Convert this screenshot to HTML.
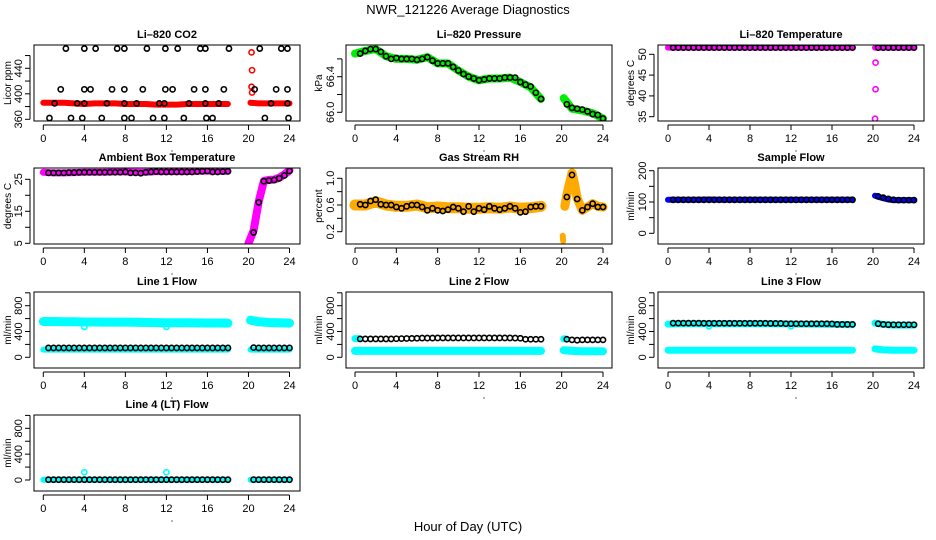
<!DOCTYPE html>
<html><head><meta charset="utf-8"><style>
html,body{margin:0;padding:0;background:#fff;}
svg{display:block;font-family:"Liberation Sans",Arial,sans-serif;}
</style></head><body>
<svg id="chart" width="936" height="540" viewBox="0 0 936 540">
<rect x="0" y="0" width="936" height="540" fill="#fff"/>
<text x="468" y="14" font-size="13" text-anchor="middle">NWR_121226  Average Diagnostics</text>
<text x="468" y="531" font-size="13" text-anchor="middle">Hour of Day (UTC)</text>
</svg>
<script>
// shared hour arrays
const BX = [0,1,2,3,4,5,6,7,8,9,10,11,12,13,14,15,16,17,18];
const BX2 = [20.2,21,22,23,24];
const CX = [0.5,1,1.5,2,2.5,3,3.5,4,4.5,5,5.5,6,6.5,7,7.5,8,8.5,9,9.5,10,10.5,11,11.5,12,12.5,13,13.5,14,14.5,15,15.5,16,16.5,17,17.5,18];
const CX2 = [20.5,21,21.5,22,22.5,23,23.5,24];
const xTicks = [0,4,8,12,16,20,24];

// CO2
const co2Band = [386,386,386,385,384,385,385,385,384,384,384,383,383,383,384,384,384,384,384];
const co2Band2 = [386,385,385,385,385];
const co2OutX = [20.3,20.35,20.3,20.35];
const co2OutY = [465,437,411,402];
const co2TopX = [2.2,4.0,5.1,7.2,7.9,10.1,11.9,13.1,15.3,15.8,18.1,21.1,23.2,23.8];
const co2TopY = [471,471,471,471,471,471,471,471,471,471,471,471,471,471];
const co2MidX = [1.7,4.0,4.6,6.7,7.9,9.7,11.9,12.6,14.7,15.8,17.6,20.6,22.7,23.8];
const co2MidY = [407,407,407,407,407,407,407,407,407,407,407,407,407,407];
const co2LowX = [1.1,3.3,4.0,6.2,7.9,9.1,11.3,11.8,14.2,15.8,17.1,22.2,23.8];
const co2LowY = [385,385,385,385,385,385,385,385,385,385,385,385,385];
const co2BotX = [0.6,2.7,3.8,5.7,7.9,8.6,10.7,11.8,13.7,15.9,16.5,21.6,23.9];
const co2BotY = [362,362,362,362,362,362,362,362,362,362,362,362,362];
// Pressure
const presBand = [66.66,66.69,66.71,66.63,66.60,66.60,66.59,66.62,66.55,66.55,66.47,66.40,66.36,66.38,66.38,66.39,66.34,66.28,66.15];
const presBand2 = [66.16,66.04,66.02,65.99,65.93];
const presAvg = [66.66,66.69,66.71,66.71,66.68,66.63,66.60,66.61,66.60,66.60,66.60,66.59,66.60,66.62,66.58,66.55,66.55,66.55,66.51,66.47,66.43,66.40,66.38,66.36,66.37,66.38,66.38,66.38,66.39,66.39,66.39,66.34,66.31,66.29,66.22,66.15];
const presAvg2 = [66.09,66.05,66.04,66.03,66.01,65.98,65.97,65.93];
// Li-820 temperature
const ltBand = [51.6,51.6,51.6,51.6,51.6,51.6,51.6,51.6,51.6,51.6,51.6,51.6,51.6,51.6,51.6,51.6,51.6,51.6,51.6];
const ltBand2 = [51.6,51.6,51.6,51.6,51.6];
const ltAvg = [51.6,51.6,51.6,51.6,51.6,51.6,51.6,51.6,51.6,51.6,51.6,51.6,51.6,51.6,51.6,51.6,51.6,51.6,51.6,51.6,51.6,51.6,51.6,51.6,51.6,51.6,51.6,51.6,51.6,51.6,51.6,51.6,51.6,51.6,51.6,51.6];
const ltAvg2 = [51.6,51.6,51.6,51.6,51.6,51.6,51.6,51.6];
const ltOutX = [20.25,20.25,20.2];
const ltOutY = [48,41.6,34.5];
// Ambient
const ambBand = [27.2,27.0,27.0,27.1,27.2,27.2,27.2,27.3,27.3,27.2,27.2,27.4,27.4,27.4,27.4,27.5,27.6,27.5,27.5];
const ambRiseX = [20,20.5,21,21.5,22,22.5,23,23.5,24];
const ambRiseY = [5,9,18,24.5,24.8,24.9,25.5,26.5,27.8];
const ambAvg = [27.0,27.0,27.0,27.0,27.1,27.1,27.2,27.2,27.2,27.2,27.2,27.2,27.2,27.2,27.2,27.3,27.0,27.0,26.9,27.2,27.3,27.4,27.3,27.3,27.3,27.3,27.3,27.3,27.3,27.4,27.5,27.6,27.3,27.3,27.4,27.5];
const ambAvg2 = [8.4,17.8,24.4,24.6,24.8,25.3,26.2,27.6];
// RH
const rhBand = [0.6,0.6,0.65,0.6,0.58,0.58,0.6,0.56,0.57,0.56,0.56,0.55,0.55,0.56,0.55,0.57,0.55,0.56,0.58];
const rhBandX2 = [20.3,20.5,20.8,21,21.2,21.5,22,22.5,23,23.5,24];
const rhBand2 = [0.58,0.75,0.95,1.08,0.95,0.7,0.52,0.57,0.62,0.58,0.57];
const rhOutX = [20.1,20.15];
const rhOutY = [0.14,0.06];
const rhAvg = [0.61,0.6,0.66,0.68,0.61,0.6,0.6,0.57,0.55,0.58,0.6,0.6,0.57,0.52,0.55,0.52,0.51,0.53,0.57,0.55,0.5,0.58,0.5,0.55,0.53,0.58,0.55,0.53,0.55,0.58,0.55,0.49,0.5,0.57,0.58,0.58];
const rhAvg2 = [0.72,1.05,0.69,0.52,0.57,0.62,0.57,0.57];
// Sample flow
const sfBand = [107,107,107,107,108,107,107,107,107,107,107,107,107,107,107,107,107,107,107];
const sfBandX2 = [20.2,20.5,21,21.5,22,23,24];
const sfBand2 = [120,117,112,108,106,106,106];
const sfAvg = [107,107,107,107,107,107,107,107,107,107,107,107,107,107,107,107,107,107,107,107,107,107,107,107,107,107,107,107,107,107,107,107,107,107,107,107];
const sfAvg2 = [118,114,110,107,106,106,106,106];
// Line 1
const l1High = [555,555,552,550,548,548,545,545,545,542,540,538,535,535,535,533,532,532,530];
const l1High2 = [575,550,540,535,530];
const l1Low = [120,120,120,120,120,120,120,120,120,120,120,120,120,120,120,120,120,120,120];
const l1Low2 = [120,120,120,120,120];
const l1Avg = [145,145,145,145,145,145,145,145,145,145,145,145,145,145,145,145,145,145,145,145,145,145,145,145,145,145,145,145,145,145,145,145,145,145,145,145];
const l1Avg2 = [150,145,145,145,145,145,145,145];
const l1OutX = [4,12];
const l1OutY = [470,470];
// Line 2
const l2Low = [100,100,100,100,100,100,100,100,100,100,100,100,100,100,100,100,100,100,100];
const l2Low2 = [110,100,95,95,95];
const l2Avg = [285,285,285,285,285,285,285,288,290,292,293,295,298,298,298,300,300,300,300,300,300,300,300,300,300,300,300,300,300,300,298,295,280,280,280,280];
const l2Avg2 = [280,270,265,270,270,270,270,270];
const l2StartX = [0,0.3];
const l2StartY = [290,290];
const l2Start2X = [20.2,20.4];
const l2Start2Y = [285,285];
// Line 3
const l3Low = [110,110,110,110,110,110,110,110,110,110,110,110,110,110,110,110,110,110,110];
const l3Low2 = [130,115,110,110,110];
const l3High = [515,520,520,520,520,520,520,520,520,520,520,518,518,515,515,512,510,508,505];
const l3High2 = [530,510,500,500,500];
const l3Avg = [530,530,530,530,530,530,528,528,528,528,528,528,528,528,528,528,528,528,528,525,525,525,520,520,520,520,520,520,520,520,520,518,510,510,510,510];
const l3Avg2 = [520,510,505,505,505,505,505,505];
const l3OutX = [4,12];
const l3OutY = [480,480];
// Line 4
const l4Band = [5,5,5,5,5,5,5,5,5,5,5,5,5,5,5,5,5,5,5];
const l4Band2 = [5,5,5,5,5];
const l4Avg = [5,5,5,5,5,5,5,5,5,5,5,5,5,5,5,5,5,5,5,5,5,5,5,5,5,5,5,5,5,5,5,5,5,5,5,5];
const l4Avg2 = [5,5,5,5,5,5,5,5];
const l4OutX = [4,12];
const l4OutY = [120,120];

const svg = document.getElementById('chart');
const NS = 'http://www.w3.org/2000/svg';
function mk(tag, attrs, parent){
  const e = document.createElementNS(NS, tag);
  for (const k in attrs) e.setAttribute(k, attrs[k]);
  (parent||svg).appendChild(e);
  return e;
}
const COLS = [{l:34,r:300,x0:43.3,x24:289.5,yl:11},{l:346,r:612,x0:355,x24:603,yl:322},{l:658,r:924,x0:668,x24:914,yl:634}];
const ROWS = [45,168,292,415];
const H = 76;

function panel(col,row,o){
  const c = COLS[col], top = ROWS[row], bot = top+H;
  const g = mk('g',{});
  
  
  const sx = v => c.x0 + (v/24)*(c.x24-c.x0);
  const sy = v => o.py0 - (v - o.v0)*o.ppu;
  const t = mk('text',{x:(c.l+c.r)/2,y:top-7,'font-size':11,'font-weight':'bold','text-anchor':'middle'},g);
  t.textContent = o.title;
  
  
  const plot = mk('g',{},g);
  
  
  const clipId = 'clip'+col+row;
  const cp = mk('clipPath',{id:clipId},g);
  mk('rect',{x:c.l,y:top,width:c.r-c.l,height:H},cp);
  plot.setAttribute('clip-path','url(#'+clipId+')');
  (o.series||[]).forEach(s=>{
    if (s.type==='band'){
      const pts = s.x.map((x,i)=>sx(x).toFixed(1)+','+sy(s.y[i]).toFixed(1)).join(' ');
      const p = mk('polyline',{points:pts,fill:'none',stroke:s.color,'stroke-width':s.w||7,'stroke-linecap':'round','stroke-linejoin':'round'},plot);
      
      
    } else {
      s.x.forEach((x,i)=>{
        const ci = mk('circle',{cx:sx(x),cy:sy(s.y[i]),r:2.6,fill:'none',stroke:s.color,'stroke-width':1.6},plot);
        
        
      });
    }
  });
  const box = mk('rect',{x:c.l,y:top,width:c.r-c.l,height:H,fill:'none',stroke:'#000','stroke-width':1},g);
  
  
  const xa = mk('g',{},g);
  
  
  mk('line',{x1:sx(0),x2:sx(24),y1:bot+4,y2:bot+4,stroke:'#000'},xa);
  xTicks.forEach(v=>{
    mk('line',{x1:sx(v),x2:sx(v),y1:bot+4,y2:bot+9,stroke:'#000'},xa);
    const tl = mk('text',{x:sx(v),y:bot+21,'font-size':11,'text-anchor':'middle'},xa);
    tl.textContent = v;
    
    
  });
  mk('circle',{cx:(c.l+c.r)/2+5,cy:bot+30,r:0.6,fill:'#000'},xa);
  const ya = mk('g',{},g);
  
  
  const yt0 = sy(o.ticks[0]), yt1 = sy(o.ticks[o.ticks.length-1]);
  mk('line',{x1:c.l-4,x2:c.l-4,y1:yt0,y2:yt1,stroke:'#000'},ya);
  o.ticks.forEach(v=>{
    mk('line',{x1:c.l-9,x2:c.l-4,y1:sy(v),y2:sy(v),stroke:'#000'},ya);
    if (o.labels.indexOf(v)>=0){
      const yy = sy(v), xx = c.l-12;
      const tl = mk('text',{x:xx,y:yy,'font-size':11,'text-anchor':'middle',transform:'rotate(-90 '+xx+' '+yy+')'},ya);
      tl.textContent = o.fmt ? o.fmt(v) : v;
      
      
    }
  });
  const ylx = c.yl, yly = (top+bot)/2;
  const yl = mk('text',{x:ylx,y:yly,'font-size':10,'text-anchor':'middle',transform:'rotate(-90 '+ylx+' '+yly+')'},g);
  yl.textContent = o.ylab;
  
  
}

const RED='#ff0000', BLK='#000', MAG='#ff00ff', GRN='#00ee00', CYA='#00ffff', BLU='#0000ff', ORG='#ffaa00';
const flowT=[0,200,400,600,800,1000], flowL=[0,400,800];

panel(0,0,{name:'panel-li820-co2',title:'Li\u2013820 CO2',ylab:'Licor ppm',py0:119.3,v0:360,ppu:0.6375,ticks:[360,380,400,420,440,460],labels:[360,400,440],
 series:[{type:'band',x:BX,y:co2Band,color:RED,w:6,name:'co2-raw-series'},{type:'band',x:BX2,y:co2Band2,color:RED,w:6,name:'co2-raw-series'},
 {type:'pt',x:co2OutX,y:co2OutY,color:RED,name:'co2-raw-outlier'},
 {type:'pt',x:co2TopX,y:co2TopY,color:BLK,name:'co2-average-point'},{type:'pt',x:co2MidX,y:co2MidY,color:BLK,name:'co2-average-point'},
 {type:'pt',x:co2LowX,y:co2LowY,color:BLK,name:'co2-average-point'},{type:'pt',x:co2BotX,y:co2BotY,color:BLK,name:'co2-average-point'}]});
panel(1,0,{name:'panel-li820-pressure',title:'Li\u2013820 Pressure',ylab:'kPa',py0:112.3,v0:66.0,ppu:89,ticks:[66.0,66.2,66.4,66.6],labels:[66.0,66.4],fmt:v=>v.toFixed(1),
 series:[{type:'band',x:BX,y:presBand,color:GRN,w:8,name:'pressure-raw-series'},{type:'band',x:BX2,y:presBand2,color:GRN,w:8,name:'pressure-raw-series'},
 {type:'pt',x:CX,y:presAvg,color:BLK,name:'pressure-average-point'},{type:'pt',x:CX2,y:presAvg2,color:BLK,name:'pressure-average-point'}]});
panel(2,0,{name:'panel-li820-temperature',title:'Li\u2013820 Temperature',ylab:'degrees C',py0:116.7,v0:35,ppu:4.16,ticks:[35,40,45,50],labels:[35,40,45,50],
 series:[{type:'band',x:BX,y:ltBand,color:MAG,w:6,name:'li-temp-raw-series'},{type:'band',x:BX2,y:ltBand2,color:MAG,w:6,name:'li-temp-raw-series'},
 {type:'pt',x:ltOutX,y:ltOutY,color:MAG,name:'li-temp-outlier'},
 {type:'pt',x:CX,y:ltAvg,color:BLK,name:'li-temp-average-point'},{type:'pt',x:CX2,y:ltAvg2,color:BLK,name:'li-temp-average-point'}]});
panel(0,1,{name:'panel-ambient-box-temperature',title:'Ambient Box Temperature',ylab:'degrees C',py0:243.3,v0:5,ppu:3.2,ticks:[5,10,15,20,25],labels:[5,15,25],
 series:[{type:'band',x:BX,y:ambBand,color:MAG,w:7,name:'ambient-raw-series'},{type:'band',x:ambRiseX,y:ambRiseY,color:MAG,w:8,name:'ambient-raw-series'},
 {type:'pt',x:CX,y:ambAvg,color:BLK,name:'ambient-average-point'},{type:'pt',x:CX2,y:ambAvg2,color:BLK,name:'ambient-average-point'}]});
panel(1,1,{name:'panel-gas-stream-rh',title:'Gas Stream RH',ylab:'percent',py0:231.7,v0:0.2,ppu:66.75,ticks:[0.2,0.4,0.6,0.8,1.0],labels:[0.2,0.6,1.0],fmt:v=>v.toFixed(1),
 series:[{type:'band',x:BX,y:rhBand,color:ORG,w:11,name:'rh-raw-series'},{type:'band',x:rhBandX2,y:rhBand2,color:ORG,w:9,name:'rh-raw-series'},
 {type:'band',x:rhOutX,y:rhOutY,color:ORG,w:6,name:'rh-raw-outlier'},
 {type:'pt',x:CX,y:rhAvg,color:BLK,name:'rh-average-point'},{type:'pt',x:CX2,y:rhAvg2,color:BLK,name:'rh-average-point'}]});
panel(2,1,{name:'panel-sample-flow',title:'Sample Flow',ylab:'ml/min',py0:233.3,v0:0,ppu:0.313,ticks:[0,50,100,150,200],labels:[0,100,200],
 series:[{type:'band',x:BX,y:sfBand,color:BLU,w:6,name:'sample-flow-raw-series'},{type:'band',x:sfBandX2,y:sfBand2,color:BLU,w:6,name:'sample-flow-raw-series'},
 {type:'pt',x:CX,y:sfAvg,color:BLK,name:'sample-flow-average-point'},{type:'pt',x:CX2,y:sfAvg2,color:BLK,name:'sample-flow-average-point'}]});
panel(0,2,{name:'panel-line1-flow',title:'Line 1 Flow',ylab:'ml/min',py0:357.3,v0:0,ppu:0.0645,ticks:flowT,labels:flowL,
 series:[{type:'band',x:BX,y:l1High,color:CYA,w:9,name:'line1-high-series'},{type:'band',x:BX2,y:l1High2,color:CYA,w:9,name:'line1-high-series'},
 {type:'band',x:BX,y:l1Low,color:CYA,w:6,name:'line1-low-series'},{type:'band',x:BX2,y:l1Low2,color:CYA,w:6,name:'line1-low-series'},
 {type:'pt',x:l1OutX,y:l1OutY,color:CYA,name:'line1-outlier'},
 {type:'pt',x:CX,y:l1Avg,color:BLK,name:'line1-average-point'},{type:'pt',x:CX2,y:l1Avg2,color:BLK,name:'line1-average-point'}]});
panel(1,2,{name:'panel-line2-flow',title:'Line 2 Flow',ylab:'ml/min',py0:357.3,v0:0,ppu:0.0645,ticks:flowT,labels:flowL,
 series:[{type:'band',x:BX,y:l2Low,color:CYA,w:8,name:'line2-low-series'},{type:'band',x:BX2,y:l2Low2,color:CYA,w:8,name:'line2-low-series'},
 {type:'band',x:l2StartX,y:l2StartY,color:CYA,w:7,name:'line2-high-start'},
 {type:'band',x:l2Start2X,y:l2Start2Y,color:CYA,w:7,name:'line2-high-start'},
 {type:'pt',x:CX,y:l2Avg,color:BLK,name:'line2-average-point'},{type:'pt',x:CX2,y:l2Avg2,color:BLK,name:'line2-average-point'}]});
panel(2,2,{name:'panel-line3-flow',title:'Line 3 Flow',ylab:'ml/min',py0:357.3,v0:0,ppu:0.0645,ticks:flowT,labels:flowL,
 series:[{type:'band',x:BX,y:l3Low,color:CYA,w:7,name:'line3-low-series'},{type:'band',x:BX2,y:l3Low2,color:CYA,w:7,name:'line3-low-series'},
 {type:'band',x:BX,y:l3High,color:CYA,w:7,name:'line3-high-series'},{type:'band',x:BX2,y:l3High2,color:CYA,w:7,name:'line3-high-series'},
 {type:'pt',x:l3OutX,y:l3OutY,color:CYA,name:'line3-outlier'},
 {type:'pt',x:CX,y:l3Avg,color:BLK,name:'line3-average-point'},{type:'pt',x:CX2,y:l3Avg2,color:BLK,name:'line3-average-point'}]});
panel(0,3,{name:'panel-line4-flow',title:'Line 4 (LT) Flow',ylab:'ml/min',py0:480,v0:0,ppu:0.0646,ticks:flowT,labels:flowL,
 series:[{type:'band',x:BX,y:l4Band,color:CYA,w:6,name:'line4-raw-series'},{type:'band',x:BX2,y:l4Band2,color:CYA,w:6,name:'line4-raw-series'},
 {type:'pt',x:l4OutX,y:l4OutY,color:CYA,name:'line4-outlier'},
 {type:'pt',x:CX,y:l4Avg,color:BLK,name:'line4-average-point'},{type:'pt',x:CX2,y:l4Avg2,color:BLK,name:'line4-average-point'}]});
</script>
</body></html>
